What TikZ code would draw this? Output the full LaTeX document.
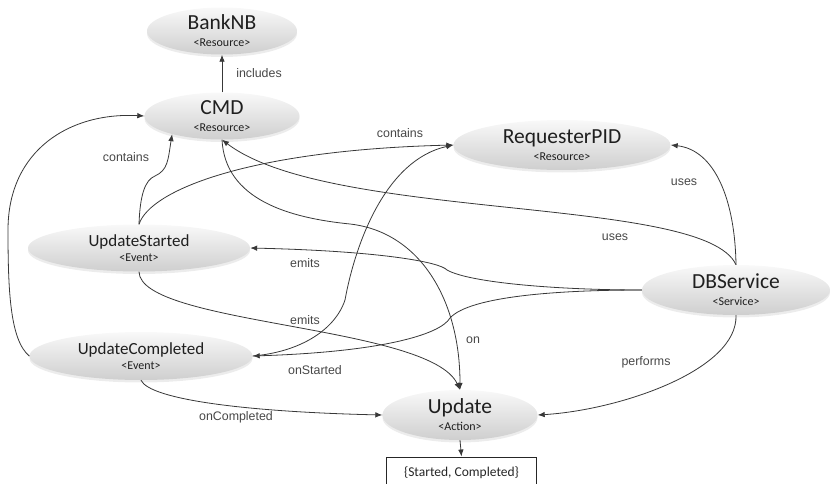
\documentclass[tikz,border=0pt]{standalone}
\usepackage{fontspec}
\setmainfont{Liberation Sans}
\newfontfamily\calfont{Carlito}
\usetikzlibrary{arrows.meta,%
		calc,%
		positioning,%
		shadows,%
		shapes,%
		shapes.geometric}

\begin{document}
\begin{tikzpicture}[x=1pt,y=-1pt,
  ent/.style={ellipse,inner sep=0pt,align=center,text=black!88,
    top color=gray!5,bottom color=gray!38,
    drop shadow={opacity=0.15,shadow xshift=0pt,shadow yshift=-2.5pt}},
  big/.style={font=\calfont\fontsize{12}{17}\selectfont},
  small/.style={font=\calfont\fontsize{12}{15}\selectfont},
  rel/.style={draw=black!78,line width=0.8pt,-{Latex[length=7pt,width=5.5pt]}},
  lbl/.style={font=\fontsize{12.4}{14}\selectfont,text=black!72,inner sep=0pt}]

  \useasboundingbox (0,0) rectangle (830,484);

  % entities
  \node[ent,big,minimum width=150,minimum height=47] (banknb) at (222,31)
    {{\fontsize{21.5}{22}\selectfont BankNB}\\<Resource>};
  \node[ent,big,minimum width=155,minimum height=47] (cmd) at (222,116)
    {{\fontsize{21.5}{22}\selectfont CMD}\\<Resource>};
  \node[ent,big,minimum width=217,minimum height=50] (requester) at (562,145)
    {{\fontsize{21.5}{22}\selectfont RequesterPID}\\<Resource>};
  \node[ent,small,minimum width=222,minimum height=47] (ustarted) at (139,248)
    {{\fontsize{17}{18}\selectfont UpdateStarted}\\<Event>};
  \node[ent,small,minimum width=223,minimum height=48] (ucompleted) at (141,356)
    {{\fontsize{17}{18}\selectfont UpdateCompleted}\\<Event>};
  \node[ent,big,minimum width=188,minimum height=50] (dbservice) at (736,290)
    {{\fontsize{21.5}{22}\selectfont DBService}\\<Service>};
  \node[ent,big,minimum width=155,minimum height=50] (update) at (460,415)
    {{\fontsize{21.5}{22}\selectfont Update}\\<Action>};
  \node[draw=black!85,line width=0.9pt,minimum width=150,minimum height=32,
    font=\calfont\fontsize{13.5}{15}\selectfont,text=black!85] (states) at (461.5,473)
    {\{Started, Completed\}};

  % relations
  \draw[rel] (cmd.north) -- (banknb.south);
  \draw[rel] (ucompleted.west) .. controls (10,340) and (8,290) .. (8,230)
    .. controls (8,150) and (70,112) .. (cmd.west);
  \draw[rel] (ustarted.north) .. controls (140,195) and (145,180) .. (155,176)
    .. controls (168,170) and (168,160) .. (cmd.200);
  \draw[rel] (ustarted.north) .. controls (150,190) and (250,150) .. (requester.west);
  \draw[rel] (ucompleted.east) .. controls (300,352) and (335,330) .. (345,300)
    .. controls (355,245) and (385,160) .. (requester.west);
  \draw[rel] (dbservice.north) .. controls (705,195) and (330,222) .. (cmd.south);
  \draw[rel] (dbservice.north) .. controls (735,200) and (715,150) .. (requester.east);
  \draw[rel] (cmd.south) .. controls (225,200) and (290,218) .. (350,224)
    .. controls (420,232) and (460,300) .. (update.north);
  \draw[rel] (ustarted.south) .. controls (140,325) and (430,325) .. (update.north);
  \draw[rel] (dbservice.west) .. controls (560,290) and (470,283) .. (447,270)
    .. controls (440,262) and (380,251) .. (ustarted.east);
  \draw[rel] (dbservice.west) .. controls (560,290) and (470,296) .. (450,318)
    .. controls (440,335) and (380,352) .. (ucompleted.east);
  \draw[rel] (ucompleted.south) .. controls (150,400) and (250,412) .. (update.west);
  \draw[rel] (dbservice.south) .. controls (738,370) and (620,410) .. (update.east);
  \draw[rel] (update.south) -- (states.north);

  % labels
  \node[lbl] (lincl) at (259,73) {includes};
  \node[lbl] (lcont1) at (126,157) {contains};
  \node[lbl] (lcont2) at (400,133) {contains};
  \node[lbl] (luses1) at (684,182) {uses};
  \node[lbl] (luses2) at (615,237) {uses};
  \node[lbl] (lemit1) at (305,263) {emits};
  \node[lbl] (lemit2) at (305,320) {emits};
  \node[lbl] (lon) at (473,340) {on};
  \node[lbl] (lonst) at (315,370) {onStarted};
  \node[lbl] (loncp) at (236,417) {onCompleted};
  \node[lbl] (lperf) at (646,362) {performs};

\end{tikzpicture}
\end{document}
